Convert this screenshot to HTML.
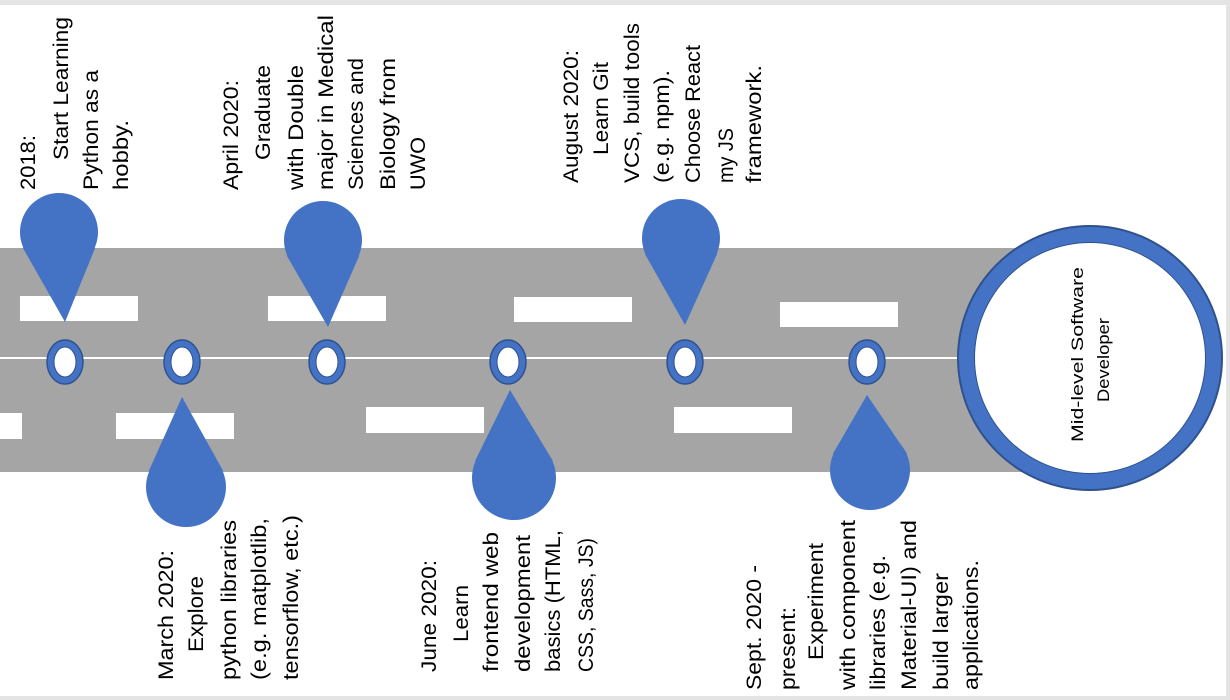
<!DOCTYPE html>
<html><head><meta charset="utf-8"><style>
html,body{margin:0;padding:0;background:#fff;}
svg{display:block;font-family:"Liberation Sans",sans-serif;}
</style></head><body>
<svg id="s" width="1230" height="700" viewBox="0 0 1230 700" xmlns="http://www.w3.org/2000/svg">
<rect x="0" y="0" width="1230" height="5" fill="#e4e4e4"/>
<rect x="1226" y="0" width="4" height="700" fill="#e4e4e4"/>
<rect x="0" y="696" width="1230" height="4" fill="#e4e4e4"/>
<rect x="0" y="248" width="1040" height="224" fill="#a5a5a5"/>
<rect x="0" y="357" width="1040" height="2" fill="#ffffff"/>
<g id="dashes"></g>
<g id="markers"></g>
<g id="pins"></g>
<g>
<circle cx="1090" cy="358" r="133" fill="#2f528f"/>
<circle cx="1090" cy="358" r="131" fill="#4472c4"/>
<circle cx="1090" cy="358" r="116" fill="#2f528f"/>
<circle cx="1090" cy="358" r="115" fill="#ffffff"/>
</g>
<g id="texts" fill="#000"></g>
</svg>
<script>
const dashRects=[[20,296,118,25],[268,296,118,25],[514,297,118,25],[780,302,118,25],[0,413,22,26],[116,413,118,26],[366,407,118,26],[674,407,118,26]];
const markerX=[65,182,327,508,685,867];
const pinDefs=[[59,232,39,65,322],[323,240,39,328,327],[681,238,39,685,325],[186,487,40,182,397],[514,478,42,510,390],[870,470,40,867,395]];
const lines=[
[27,190,135,"2018:"],[60,160,17,"Start Learning"],[90,190,70,"Python as a"],[120,190,120,"hobby."],
[230,190,80,"April 2020:"],[262,160,65,"Graduate"],[295,190,65,"with Double"],[325,190,15,"major in Medical"],[355,190,58,"Sciences and"],[387,190,58,"Biology from"],[417,190,137,"UWO"],
[570,183,50,"August 2020:"],[600,155,62,"Learn Git"],[631,183,23,"VCS, build tools"],[661,183,70,"(e.g. npm)."],[692,183,45,"Choose React"],[725,183,128,"my JS"],[753,183,65,"framework."],
[165,680,550,"March 2020:"],[195,652,576,"Explore"],[228,680,520,"python libraries"],[258,680,518,"(e.g. matplotlib,"],[290,680,515,"tensorflow, etc.)"],
[428,672,560,"June 2020:"],[460,642,585,"Learn"],[490,672,532,"frontend web"],[522,672,535,"development"],[552,672,530,"basics (HTML,"],[585,672,538,"CSS, Sass, JS)"],
[753,690,565,"Sept. 2020 -"],[787,690,607,"present:"],[815,660,543,"Experiment"],[847,690,520,"with component"],[877,690,555,"libraries (e.g."],[908,690,520,"Material-UI) and"],[940,690,573,"build larger"],[970,690,560,"applications."],
[1077,442,267,"Mid-level Software"],[1103,402,318,"Developer"]];
const NS="http://www.w3.org/2000/svg";
function mk(t,a,p){const e=document.createElementNS(NS,t);for(const k in a)e.setAttribute(k,a[k]);p.appendChild(e);return e;}
const dg=document.getElementById('dashes');
dashRects.forEach(d=>{const r=mk('rect',{x:d[0],y:d[1],width:d[2],height:d[3],fill:'#fff'},dg);

});
const mg=document.getElementById('markers');
markerX.forEach(x=>{const g=mk('g',{},mg);


mk('ellipse',{cx:x,cy:362,rx:18,ry:22,fill:'#4472c4',stroke:'#2f528f','stroke-width':1.5},g);
mk('ellipse',{cx:x,cy:362,rx:11,ry:15,fill:'#fff',stroke:'#2f528f','stroke-width':1},g);});
const pg=document.getElementById('pins');
pinDefs.forEach(p=>{const [cx,cy,r,tx,ty]=p;const g=mk('g',{fill:'#4472c4'},pg);


const dir=ty>cy?1:-1;
mk('circle',{cx:cx,cy:cy,r:r},g);
mk('polygon',{points:`${cx-r*0.93},${cy+dir*r*0.4} ${cx+r*0.93},${cy+dir*r*0.4} ${tx},${ty}`},g);});
const tg=document.getElementById('texts');
lines.forEach(l=>{const [x,yb,yt,s]=l;const small=x>1050;const bx=x+(small?6:8);
const t=mk('text',{x:0,y:0,transform:`translate(${bx},${yb}) rotate(-90)`,textLength:yb-yt,lengthAdjust:'spacingAndGlyphs','font-size':(small?17:21)},tg);
t.textContent=s;

});
</script>
</body></html>
